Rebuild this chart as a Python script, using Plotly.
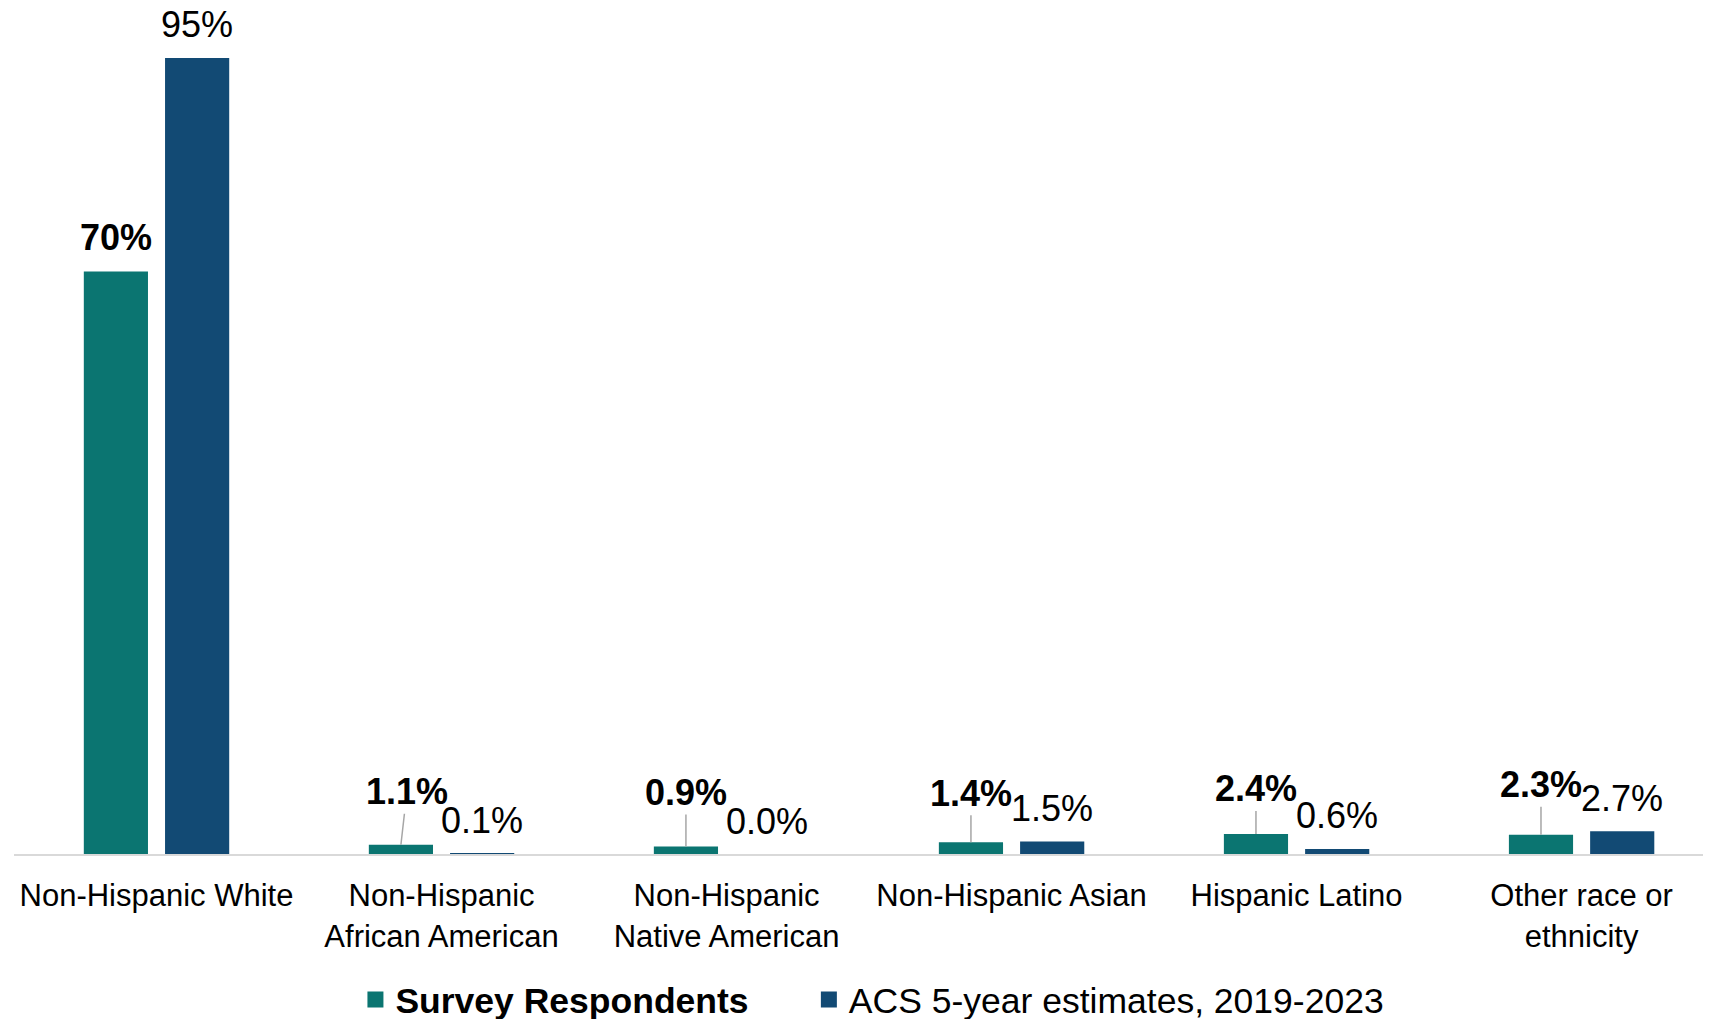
import plotly.graph_objects as go

# ---- data ----
categories = [
    "Non-Hispanic White",
    "Non-Hispanic<br>African American",
    "Non-Hispanic<br>Native American",
    "Non-Hispanic Asian",
    "Hispanic Latino",
    "Other race or<br>ethnicity",
]
survey_values = [69.5, 1.1, 0.9, 1.4, 2.4, 2.3]
acs_values = [95, 0.1, 0.0, 1.5, 0.6, 2.7]
survey_labels = ["70%", "1.1%", "0.9%", "1.4%", "2.4%", "2.3%"]
acs_labels = ["95%", "0.1%", "0.0%", "1.5%", "0.6%", "2.7%"]
series_names = ["Survey Respondents", "ACS 5-year estimates, 2019-2023"]

# ---- style ----
TEAL = "#0B7571"
BLUE = "#124A74"
FONT = "Liberation Sans, Arial, sans-serif"
W, H = 1711, 1019
# the page body adds an 8px offset, compensated here
ML, MR, MT = 6, 8, 8
PLOT_H = 838
MB = H - MT - PLOT_H
XRANGE = [-0.5, 5.454]
BARGAP, GROUPGAP = 0.43, 0.21
LABEL_SIZE = 36
LEGEND_SIZE = 35.5

plot_w = W - ML - MR
cat_px = plot_w / (XRANGE[1] - XRANGE[0])
slot = (1 - BARGAP) * cat_px / 2
shift = slot / 2

# per-label placement (pixel offsets for the callouts)
survey_lift = [34, 53, 54, 49, 45, 50]
survey_dx = [0, 6, 0, 0, 0, 0]
survey_leader = [False, True, True, True, True, True]
acs_lift = 33

fig = go.Figure()
fig.add_trace(go.Bar(x=categories, y=survey_values, name=series_names[0],
                     marker=dict(color=TEAL, line=dict(width=0)), showlegend=False))
fig.add_trace(go.Bar(x=categories, y=acs_values, name=series_names[1],
                     marker=dict(color=BLUE, line=dict(width=0)), showlegend=False))

# legend entries (one legend each, so they can be spaced like the original)
fig.add_trace(go.Scatter(x=[None], y=[None], mode="markers", name="<b>" + series_names[0] + "</b>",
                         marker=dict(symbol="square", size=16, color=TEAL), legend="legend"))
fig.add_trace(go.Scatter(x=[None], y=[None], mode="markers", name=series_names[1],
                         marker=dict(symbol="square", size=16, color=BLUE), legend="legend2"))

annotations = []
for i, c in enumerate(categories):
    if survey_leader[i]:
        annotations.append(dict(
            x=c, y=survey_values[i], xref="x", yref="y", xshift=-shift,
            text="<b>" + survey_labels[i] + "</b>", showarrow=True, arrowhead=0,
            arrowwidth=1.5, arrowcolor="#A6A6A6", ax=survey_dx[i], ay=-survey_lift[i],
            axref="pixel", ayref="pixel", font=dict(size=LABEL_SIZE, color="#000000", family=FONT)))
    else:
        annotations.append(dict(
            x=c, y=survey_values[i], xref="x", yref="y", xshift=-shift, yshift=survey_lift[i],
            text="<b>" + survey_labels[i] + "</b>", showarrow=False,
            xanchor="center", yanchor="middle",
            font=dict(size=LABEL_SIZE, color="#000000", family=FONT)))
    annotations.append(dict(
        x=c, y=acs_values[i], xref="x", yref="y", xshift=shift, yshift=acs_lift,
        text=acs_labels[i], showarrow=False, xanchor="center", yanchor="middle",
        font=dict(size=LABEL_SIZE, color="#000000", family=FONT)))

legend_common = dict(orientation="h", yref="container", y=0.0265, yanchor="middle",
                     xanchor="left", font=dict(size=LEGEND_SIZE, color="#000000", family=FONT),
                     bgcolor="rgba(0,0,0,0)")

fig.update_layout(
    width=W, height=H,
    margin=dict(l=ML, r=MR, t=MT, b=MB, autoexpand=False),
    paper_bgcolor="white", plot_bgcolor="white",
    barmode="group", bargap=BARGAP, bargroupgap=GROUPGAP,
    font=dict(family=FONT, color="#000000"),
    hovermode=False,
    annotations=annotations,
    legend=dict(x=0.2012, **legend_common),
    legend2=dict(x=0.4684, **legend_common),
)
fig.update_xaxes(range=XRANGE, showgrid=False, showline=True, linecolor="#D9D9D9", linewidth=2,
                 ticks="", tickfont=dict(size=31, color="#000000", family=FONT),
                 ticklabelstandoff=13, zeroline=False, automargin=False)
fig.update_yaxes(range=[0, 100], visible=False, showgrid=False, zeroline=False, automargin=False)

fig.write_html("out.html")
